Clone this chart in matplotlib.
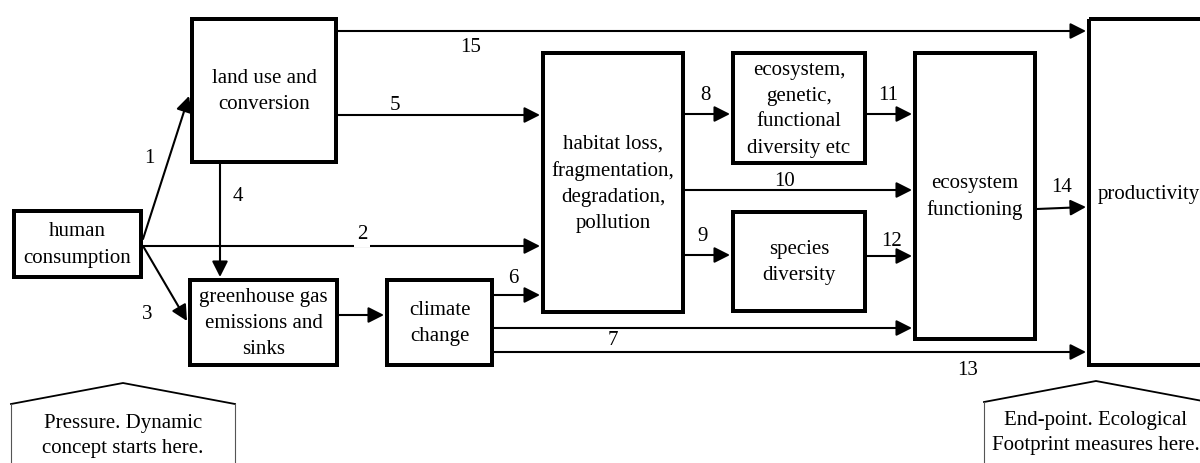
import matplotlib.pyplot as plt
from matplotlib.patches import Rectangle, FancyArrowPatch

plt.rcParams['font.family'] = ['Liberation Serif', 'DejaVu Serif']

# boxes: label, (left, top, right, bottom) in pixel coords
box_labels = [
    "human\nconsumption",
    "land use and\nconversion",
    "greenhouse gas\nemissions and\nsinks",
    "climate\nchange",
    "habitat loss,\nfragmentation,\ndegradation,\npollution",
    "ecosystem,\ngenetic,\nfunctional\ndiversity etc",
    "species\ndiversity",
    "ecosystem\nfunctioning",
    "productivity",
]
box_bounds = [
    (12, 210, 143, 280),
    (190, 18, 338, 165),
    (188, 279, 339, 368),
    (385, 279, 494, 368),
    (541, 52, 685, 315),
    (731, 52, 867, 166),
    (731, 211, 867, 314),
    (913, 52, 1037, 342),
    (1087, 18, 1225, 368),
]
# text centre override for the box cut by the page edge
box_text_pos = {8: (1149, 195)}

# numbered arrows: label, start, end, label position
arrow_labels = ["1", "2", "3", "4", "5", "", "6", "7", "8", "9", "10",
                "11", "12", "13", "14", "15"]
arrow_start = [(143, 240), (143, 247), (143, 247), (220, 165), (338, 116),
               (339, 316), (494, 296), (494, 329), (685, 115), (685, 256),
               (685, 191), (867, 115), (867, 257), (494, 353), (1037, 210),
               (338, 32)]
arrow_end = [(189, 97), (540, 247), (187, 322), (220, 278), (540, 116),
             (384, 316), (540, 296), (912, 329), (730, 115), (730, 256),
             (912, 191), (912, 115), (912, 257), (1086, 353), (1086, 208),
             (1086, 32)]
label_pos = [(149, 159), (362, 235), (147, 315), (238, 197), (395, 105),
             (0, 0), (513, 279), (613, 341), (705, 95), (703, 237),
             (785, 182), (888, 95), (892, 242), (968, 371), (1062, 188),
             (471, 47)]
gap_labels = ["2", "13"]

# callouts under the first and last box
callout_apex = [(123, 384), (1096, 382)]
callout_text = ["Pressure. Dynamic\nconcept starts here.",
                "End-point. Ecological\nFootprint measures here."]
callout_text_pos = [(123, 436), (1096, 433)]

fig = plt.figure(figsize=(12, 4.64), dpi=100)
ax = fig.add_axes([0, 0, 1, 1])
ax.set_xlim(0, 1200)
ax.set_ylim(464, 0)
ax.axis('off')

fs = 15
bw = 4  # box border in px
for i, (lab, (l, t, r, b)) in enumerate(zip(box_labels, box_bounds)):
    ax.add_patch(Rectangle((l + bw / 2, t + bw / 2), r - l - bw, b - t - bw,
                           fill=False, ec='black', lw=bw * 0.72,
                           joinstyle='miter', zorder=3))
    cx, cy = box_text_pos.get(i, ((l + r) / 2, (t + b) / 2))
    ax.text(cx, cy, lab, ha='center', va='center', fontsize=fs,
            linespacing=1.5, zorder=4)

for lab, s, e, p in zip(arrow_labels, arrow_start, arrow_end, label_pos):
    ax.add_patch(FancyArrowPatch(s, e, arrowstyle='-|>,head_length=0.95,head_width=0.48',
                                 mutation_scale=10, lw=1.5, color='black',
                                 shrinkA=0, shrinkB=0, zorder=2))
    if lab:
        kw = {}
        if lab in gap_labels:
            kw['bbox'] = dict(boxstyle='square,pad=0.15', fc='white', ec='none')
        ax.text(p[0], p[1], lab, ha='center', va='center', fontsize=fs,
                zorder=3, **kw)

for (ax0, ay0), txt, tp in zip(callout_apex, callout_text, callout_text_pos):
    hw, drop = 112, 21
    ax.plot([ax0 - hw, ax0, ax0 + hw], [ay0 + drop, ay0, ay0 + drop],
            color='black', lw=1.3, solid_joinstyle='miter')
    ax.plot([ax0 - hw, ax0 - hw], [ay0 + drop, 470], color='#555555', lw=0.8)
    ax.plot([ax0 + hw, ax0 + hw], [ay0 + drop, 470], color='#555555', lw=0.8)
    ax.text(tp[0], tp[1], txt, ha='center', va='center', fontsize=fs,
            linespacing=1.45)

fig.savefig('out.png', dpi=100)
